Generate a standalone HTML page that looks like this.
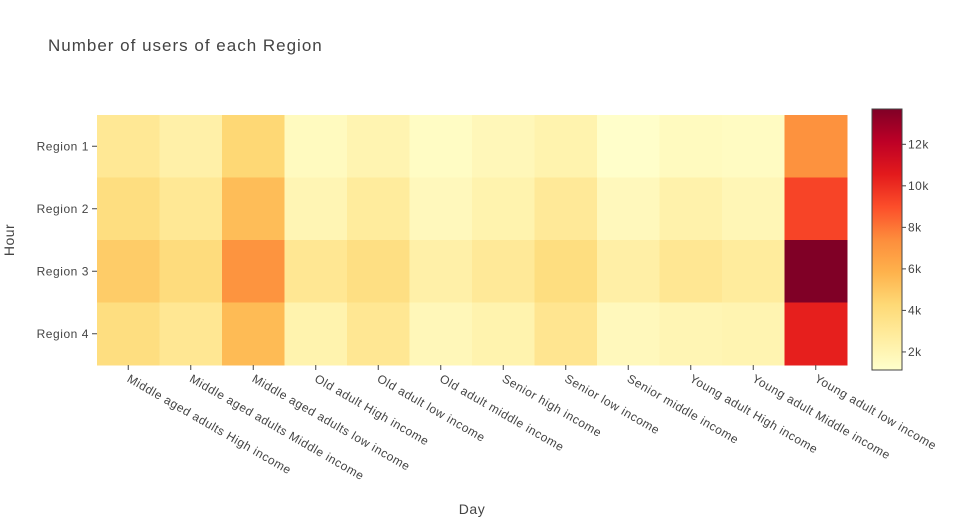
<!DOCTYPE html>
<html><head><meta charset="utf-8"><style>
body{margin:0;background:#fff;}
svg text{font-family:"Liberation Sans",Arial,sans-serif;fill:#444;}
</style></head><body>
<svg id="chart" width="955" height="525">
<text x="48" y="51" font-size="17" letter-spacing="1">Number of users of each Region</text>
<g id="cells"></g><g id="xt"></g><g id="yt"></g><g id="cb"></g>
<text x="472" y="514" font-size="14" letter-spacing="0.5" text-anchor="middle">Day</text>
<text transform="translate(14,240) rotate(-90)" font-size="14" letter-spacing="0.5" text-anchor="middle">Hour</text>
</svg>
<script>
const categories=["Middle aged adults High income","Middle aged adults Middle income","Middle aged adults low income","Old adult High income","Old adult low income","Old adult middle income","Senior high income","Senior low income","Senior middle income","Young adult High income","Young adult Middle income","Young adult low income"];
const regions=["Region 1","Region 2","Region 3","Region 4"];
const r1=[3100,2400,4300,1600,2100,1400,1800,2200,1200,1600,1500,7200];
const r2=[3900,3100,5400,2000,2800,1700,2200,3000,1700,2300,1900,9300];
const r3=[4800,4000,7100,3200,3800,2400,3000,3900,2500,3200,2800,13700];
const r4=[3900,3200,5500,2200,3200,1800,2200,3300,1700,2000,2100,10400];
const values=[r1,r2,r3,r4];
const cbTicks=[2000,4000,6000,8000,10000,12000];
const cbLabels=["2k","4k","6k","8k","10k","12k"];
const zmin=1130,zmax=13700;
const stops=[[255,255,204],[255,237,160],[254,217,118],[254,178,76],[253,141,60],[252,78,42],[227,26,28],[189,0,38],[128,0,38]];
function color(v){let t=Math.max(0,Math.min(1,(v-zmin)/(zmax-zmin)))*8;let i=Math.min(7,Math.floor(t)),f=t-i;const a=stops[i],b=stops[i+1];return `rgb(${a.map((c,k)=>Math.round(c+(b[k]-c)*f)).join(',')})`;}
const X0=97,X1=847,Y0=115,Y1=365;
const cw=(X1-X0)/categories.length,ch=(Y1-Y0)/regions.length;
const xs=i=>X0+i*cw, ys=j=>Y0+j*ch;
const NS="http://www.w3.org/2000/svg";
function mk(tag,attrs,parent){const e=document.createElementNS(NS,tag);for(const k in attrs)e.setAttribute(k,attrs[k]);document.getElementById(parent).appendChild(e);return e;}
values.forEach((row,j)=>row.forEach((v,i)=>{
 const r=mk('rect',{x:xs(i),y:ys(j),width:cw+0.5,height:ch+0.5,fill:color(v)},'cells');
 
 
}));
categories.forEach((c,i)=>{
 const cx=xs(i)+cw/2;
 const l=mk('line',{x1:cx,x2:cx,y1:Y1,y2:Y1+5,stroke:'#444'},'xt');
 
 
 const t=mk('text',{transform:`translate(${cx-2},${Y1+16}) rotate(30)`,'font-size':12,'letter-spacing':0.55},'xt');
 t.textContent=c;
 
 
});
regions.forEach((r,j)=>{
 const cy=ys(j)+ch/2;
 const l=mk('line',{x1:X0-5,x2:X0,y1:cy,y2:cy,stroke:'#444'},'yt');
 
 
 const t=mk('text',{x:X0-8,y:cy+4,'font-size':12,'letter-spacing':0.55,'text-anchor':'end'},'yt');
 t.textContent=r;
 
 
});
const CB0=109,CB1=370,CX=872,CWd=30;
const defs=mk('defs',{},'cb');
const g=document.createElementNS(NS,'linearGradient');g.setAttribute('id','grad');g.setAttribute('x1','0');g.setAttribute('y1','1');g.setAttribute('x2','0');g.setAttribute('y2','0');defs.appendChild(g);
stops.forEach((s,k)=>{const st=document.createElementNS(NS,'stop');st.setAttribute('offset',k/8);st.setAttribute('stop-color',`rgb(${s.join(',')})`);g.appendChild(st);});
const cbr=mk('rect',{x:CX,y:CB0,width:CWd,height:CB1-CB0,fill:'url(#grad)',stroke:'#444','stroke-width':1},'cb');


const cy=v=>CB1-(v-zmin)/(zmax-zmin)*(CB1-CB0);
cbTicks.forEach((v,k)=>{
 const l=mk('line',{x1:CX+CWd,x2:CX+CWd+4,y1:cy(v),y2:cy(v),stroke:'#444'},'cb');
 
 
 const t=mk('text',{x:CX+CWd+6,y:cy(v)+4,'font-size':12,'letter-spacing':0.5},'cb');
 t.textContent=cbLabels[k];
 
 
});
</script>
</body></html>
